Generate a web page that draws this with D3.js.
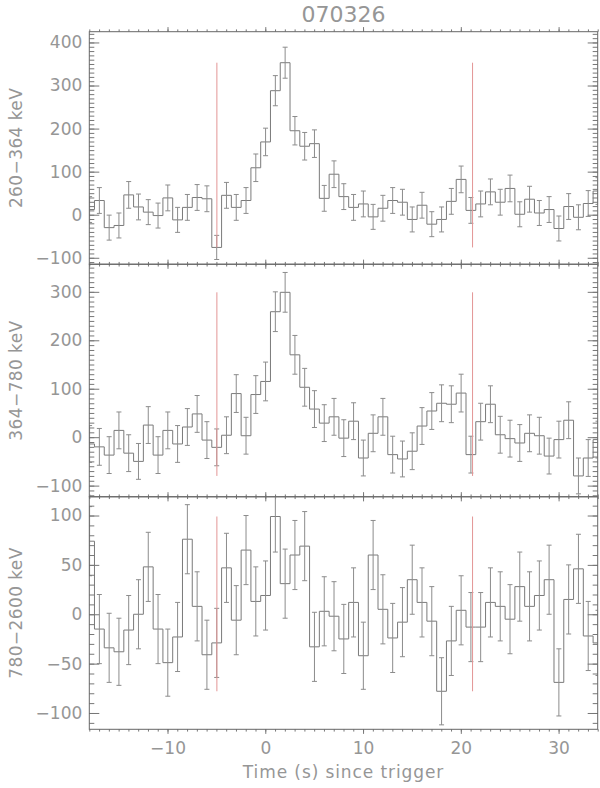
<!DOCTYPE html>
<html>
<head>
<meta charset="utf-8">
<script src="https://cdn.jsdelivr.net/npm/d3@7"></script>
<style>
  body { margin: 0; background: #fff; }
  text { font-family: "DejaVu Sans", sans-serif; fill: #969696; }
</style>
</head>
<body>
<div id="chart"></div>
<script>
// bin centres (s since trigger), 1 s bins
const times = [-18,-17,-16,-15,-14,-13,-12,-11,-10,-9,-8,-7,-6,-5,-4,-3,-2,-1,0,1,2,3,4,5,6,7,8,9,10,
               11,12,13,14,15,16,17,18,19,20,21,22,23,24,25,26,27,28,29,30,31,32,33,34];
const binOffset = 0.03;
const markTimes = [-4.95, 21.2];

const bandLabels = ["260\u2212364  keV", "364\u2212780  keV", "780\u22122600  keV"];

const counts260 = [12,33,-30,-25,46,18,6,-2,39,-12,17,40,37,-76,45,17,33,109,169,288,353,195,159,165,38,94,42,17,25,
                   -5,15,33,29,-11,22,-22,-11,31,82,10,25,53,29,61,1,36,4,12,-32,19,-6,26,55];
const errors260 = [30,30,29,29,31,30,29,29,30,29,30,30,30,28,30,30,30,32,32,35,36,33,32,32,30,31,30,30,30,
                   29,30,30,30,29,30,29,29,30,31,30,30,30,30,31,29,30,29,30,29,30,29,30,31];

const counts364 = [-14,-20,-37,14,-33,-50,25,-37,14,-14,21,48,-6,-21,4,90,3,88,115,259,299,170,103,58,29,42,-2,33,-43,
                   8,42,-36,-45,-29,23,54,70,68,91,-36,32,68,5,-3,-12,8,3,-39,-5,35,-80,-43,-5];
const errors364 = [38,38,38,38,38,37,38,38,38,38,38,38,38,38,38,39,38,39,40,41,41,40,39,38,38,38,38,38,37,
                   38,38,38,37,38,38,38,38,38,39,38,38,38,38,38,38,38,38,37,38,38,37,38,38];

const counts780 = [74,-15,-34,-38,-16,0,48,-15,-49,-23,76,8,-41,-29,47,-6,65,13,19,99,31,60,69,-33,3,-2,-25,12,-42,
                   60,5,-24,-8,35,12,-7,-78,-27,4,-13,-13,12,8,-5,28,8,19,35,-69,15,46,-22,-29];
const errors780 = [35,35,35,34,35,35,35,35,34,35,35,35,35,35,35,35,35,35,35,36,35,35,35,35,35,35,35,35,34,
                   35,35,35,35,35,35,35,34,35,35,35,35,35,35,35,35,35,35,35,34,35,35,35,33];

const yDomains = [[-115, 425], [-123, 357], [-116.5, 119]];
const yMajorSteps = [100, 100, 50];

const W = 600, H = 788;
const plotLeft = 89.3, plotRight = 597.7, plotTop = 31.7, panelH = 232.53;

const svg = d3.select("#chart").append("svg")
    .attr("width", W).attr("height", H);

const x = d3.scaleLinear().domain([-18, 34]).range([plotLeft, plotRight]);

const panels = [
    {label: bandLabels[0], counts: counts260, errors: errors260},
    {label: bandLabels[1], counts: counts364, errors: errors364},
    {label: bandLabels[2], counts: counts780, errors: errors780}
];

const fmt = d3.format("d");

panels.forEach((p, k) => {
    const y0 = plotTop + k * panelH;
    const g = svg.append("g").attr("transform", `translate(0,${y0})`);
    const y = d3.scaleLinear().domain(yDomains[k]).range([panelH, 0]);

    g.append("clipPath").attr("id", "clip" + k)
        .append("rect").attr("x", plotLeft).attr("y", 0)
        .attr("width", plotRight - plotLeft).attr("height", panelH);

    const plot = g.append("g").attr("clip-path", `url(#clip${k})`);

    // histogram steps
    const pts = times.map((t, i) => [t + binOffset - 0.5, p.counts[i]]);
    pts.push([times[times.length - 1] + binOffset + 0.5, p.counts[p.counts.length - 1]]);
    plot.append("path")
        .attr("d", d3.line().x(d => x(d[0])).y(d => y(d[1])).curve(d3.curveStepAfter)(pts))
        .attr("fill", "none").attr("stroke", "#7a7a7a").attr("stroke-width", 1);

    // error bars
    const eb = plot.append("g").attr("stroke", "#8c8c8c").attr("stroke-width", 1);
    times.forEach((t, i) => {
        const cx = x(t + binOffset), lo = y(p.counts[i] - p.errors[i]), hi = y(p.counts[i] + p.errors[i]);
        eb.append("line").attr("x1", cx).attr("x2", cx).attr("y1", lo).attr("y2", hi);
        eb.append("line").attr("x1", cx - 2.5).attr("x2", cx + 2.5).attr("y1", lo).attr("y2", lo);
        eb.append("line").attr("x1", cx - 2.5).attr("x2", cx + 2.5).attr("y1", hi).attr("y2", hi);
    });

    // red markers span data min to max
    const ext = d3.extent(p.counts);
    markTimes.forEach(t => {
        plot.append("line")
            .attr("x1", x(t)).attr("x2", x(t))
            .attr("y1", y(ext[0])).attr("y2", y(ext[1]))
            .attr("stroke", "#e39595").attr("stroke-width", 1);
    });

    // ticks
    const step = yMajorSteps[k];
    const yMajor = d3.range(Math.ceil(yDomains[k][0] / step) * step, yDomains[k][1], step);
    const yMinor = d3.range(Math.ceil(yDomains[k][0] / 10) * 10, yDomains[k][1], 10);
    const xMajor = d3.range(-10, 35, 10);
    const xMinor = d3.range(-18, 35, 1);

    const axes = [
        [d3.axisLeft(y).tickValues(yMajor).tickSize(-10).tickPadding(7).tickFormat(fmt), `translate(${plotLeft},0)`],
        [d3.axisLeft(y).tickValues(yMinor).tickSize(-5).tickFormat(""), `translate(${plotLeft},0)`],
        [d3.axisRight(y).tickValues(yMajor).tickSize(-10).tickFormat(""), `translate(${plotRight},0)`],
        [d3.axisRight(y).tickValues(yMinor).tickSize(-5).tickFormat(""), `translate(${plotRight},0)`],
        [d3.axisTop(x).tickValues(xMajor).tickSize(-4.6).tickFormat(""), `translate(0,${panelH})`],
        [d3.axisTop(x).tickValues(xMinor).tickSize(-2.3).tickFormat(""), `translate(0,${panelH})`],
        [d3.axisBottom(x).tickValues(xMajor).tickSize(-4.6).tickFormat(""), "translate(0,0)"],
        [d3.axisBottom(x).tickValues(xMinor).tickSize(-2.3).tickFormat(""), "translate(0,0)"]
    ];
    axes.forEach(([ax, tr]) => {
        const a = g.append("g").attr("transform", tr).call(ax);
        a.select(".domain").remove();
        a.selectAll("line").attr("stroke", "#777");
        a.selectAll("text").attr("font-size", 17).attr("fill", "#969696")
            .style("font-family", "DejaVu Sans");
    });

    // frame
    g.append("rect").attr("x", plotLeft).attr("y", 0)
        .attr("width", plotRight - plotLeft).attr("height", panelH)
        .attr("fill", "none").attr("stroke", "#666").attr("stroke-width", 1);

    // band label
    g.append("text")
        .attr("transform", `translate(22,${panelH / 2}) rotate(-90)`)
        .attr("text-anchor", "middle")
        .attr("font-size", 17)
        .attr("letter-spacing", 0.4)
        .text(p.label);

    if (k === panels.length - 1) {
        const xa = g.append("g").attr("transform", `translate(0,${panelH})`)
            .call(d3.axisBottom(x).tickValues(xMajor).tickSize(0).tickPadding(13).tickFormat(fmt));
        xa.select(".domain").remove();
        xa.selectAll("text").attr("font-size", 17).attr("fill", "#969696")
            .style("font-family", "DejaVu Sans");
    }
});

svg.append("text")
    .attr("x", (plotLeft + plotRight) / 2).attr("y", 778)
    .attr("text-anchor", "middle").attr("font-size", 17)
    .attr("letter-spacing", 0.9)
    .text("Time (s) since trigger");

svg.append("text")
    .attr("x", (plotLeft + plotRight) / 2).attr("y", 22)
    .attr("text-anchor", "middle").attr("font-size", 22)
    .text("070326");
</script>
</body>
</html>
